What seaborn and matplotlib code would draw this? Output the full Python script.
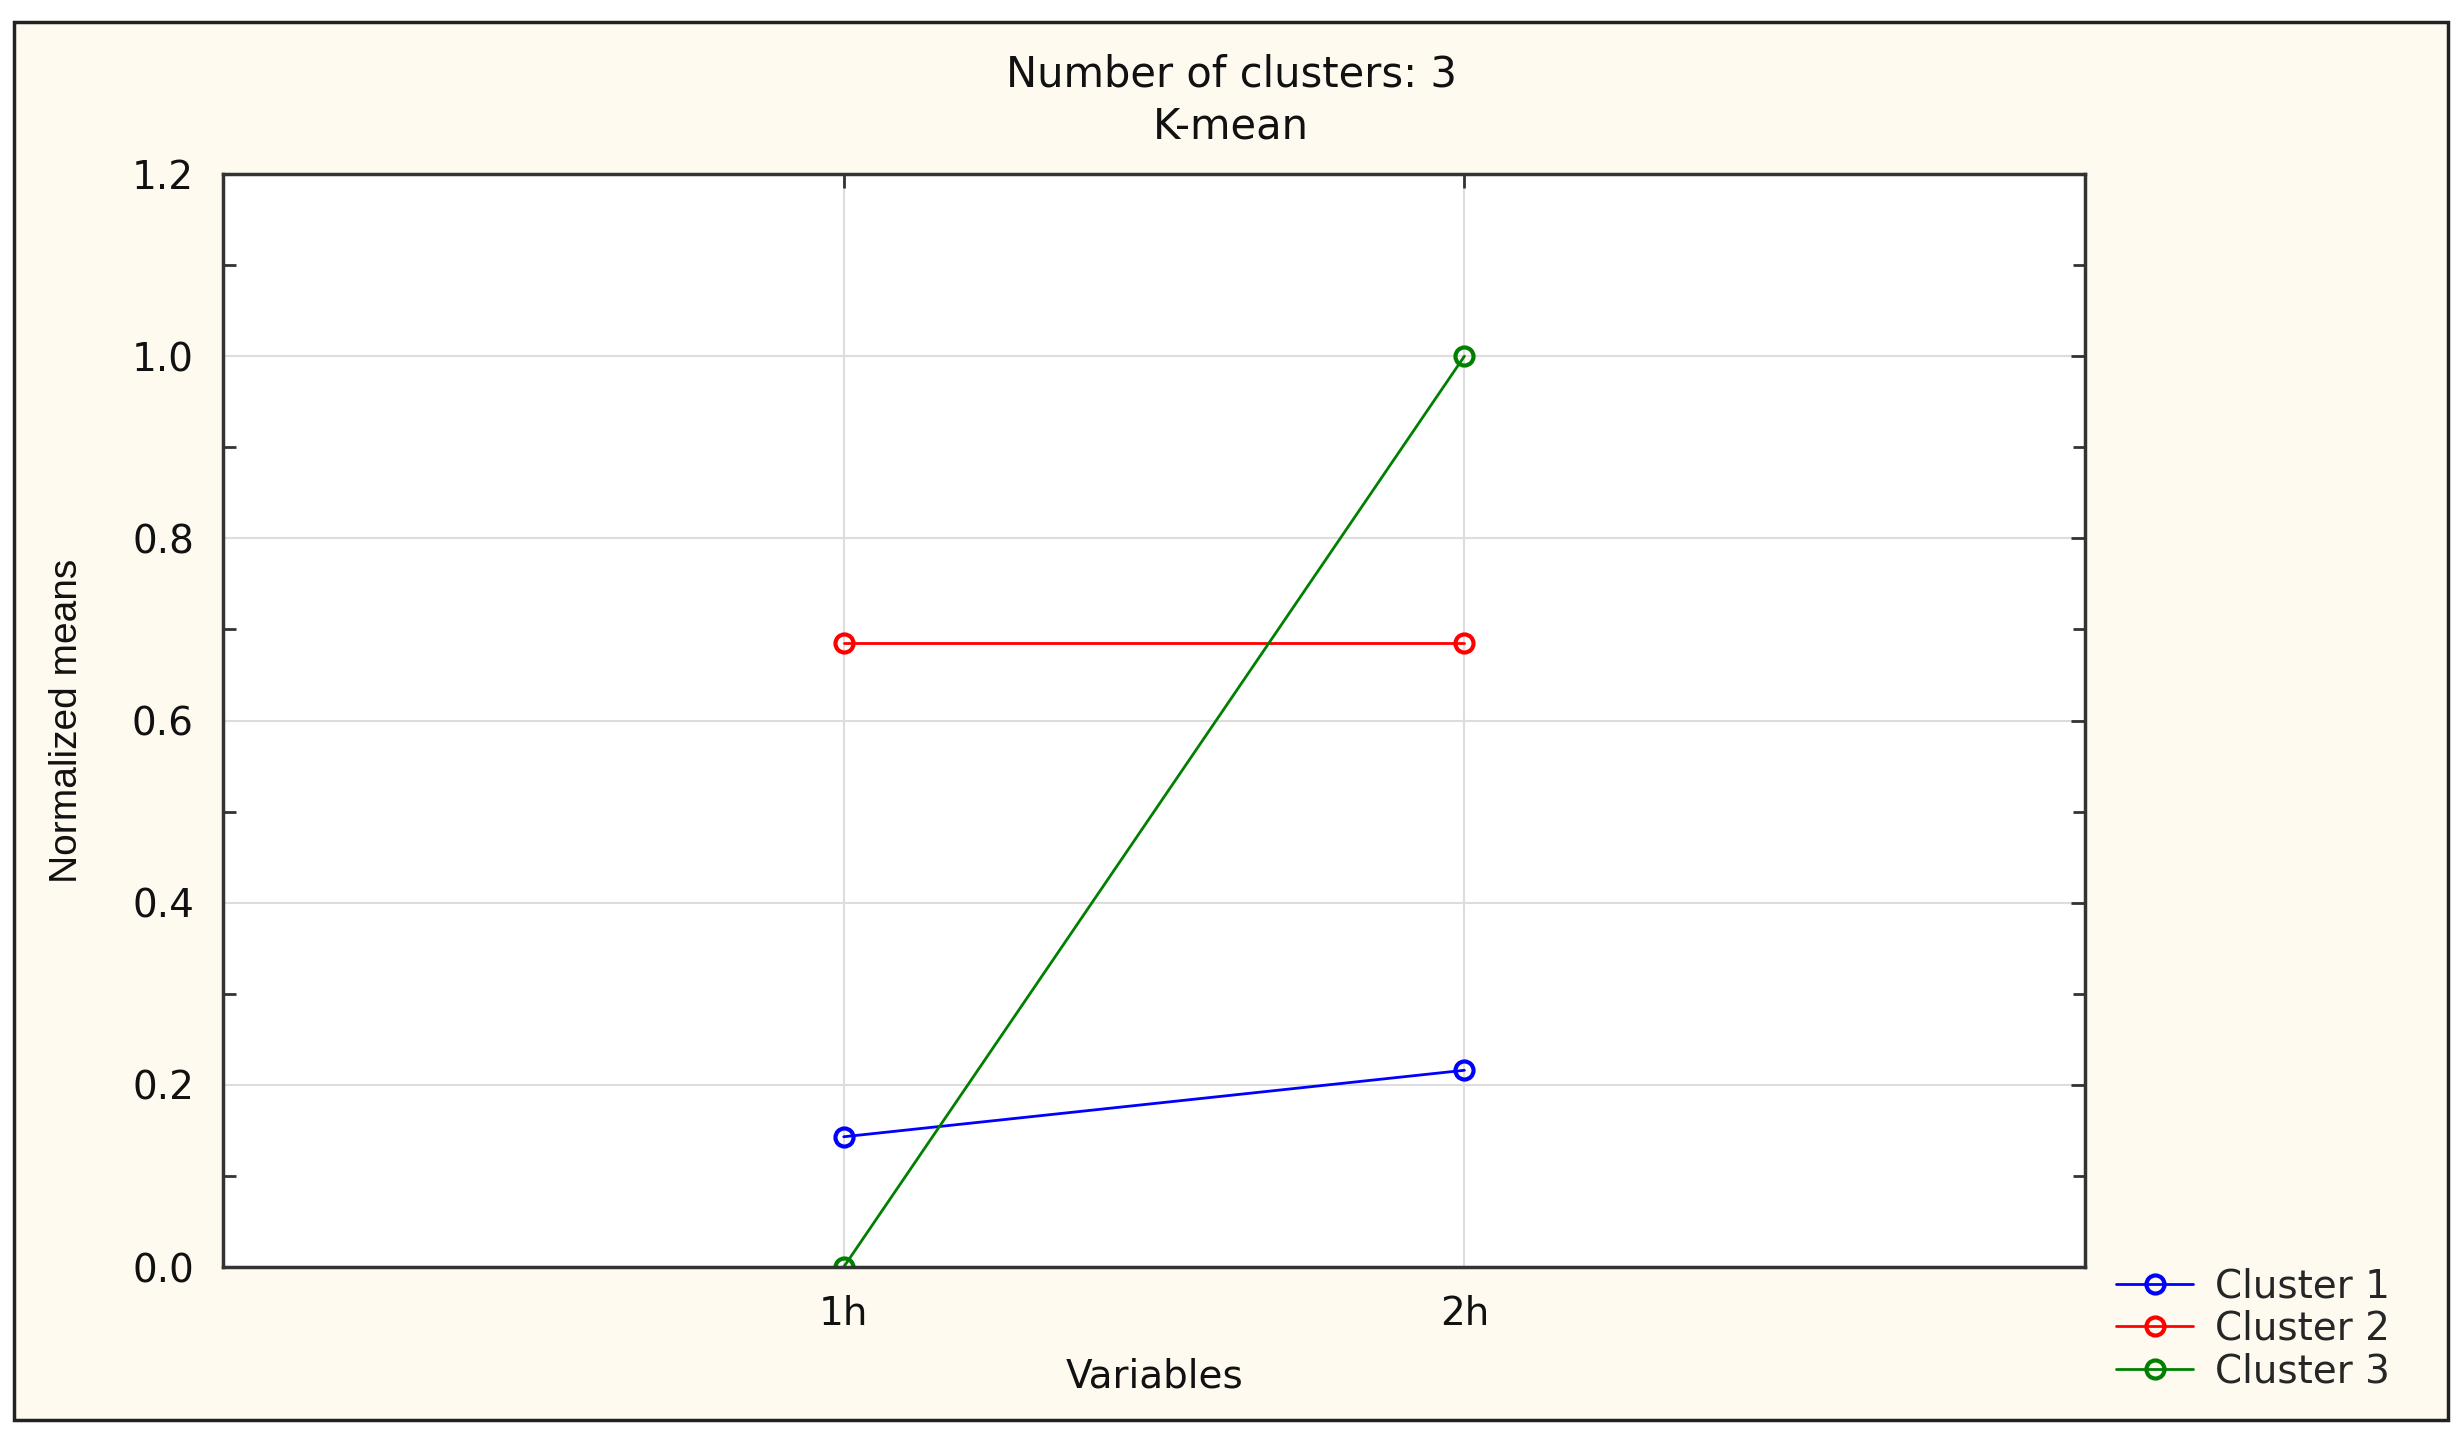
import numpy as np
import pandas as pd
import matplotlib
matplotlib.use('Agg')
import matplotlib.pyplot as plt
import matplotlib.patches as patches
from matplotlib.ticker import MultipleLocator
import seaborn as sns

# Data
variables = ['1h', '2h']
cluster_1 = [0.143, 0.216]
cluster_2 = [0.685, 0.685]
cluster_3 = [0.0, 1.0]
cluster_names = ['Cluster 1', 'Cluster 2', 'Cluster 3']
cluster_colors = ['#0000FF', '#FF0000', '#008000']

df = pd.DataFrame({
    'Variables': variables * 3,
    'Normalized means': cluster_1 + cluster_2 + cluster_3,
    'Cluster': [c for c in cluster_names for _ in variables],
})

sns.set_theme(style='white')
plt.rcParams['font.family'] = ['DejaVu Sans']

fig = plt.figure(figsize=(24.62, 14.37), dpi=100)
fig.patch.set_facecolor('white')

# cream panel with dark frame
frame = patches.Rectangle((0.0057, 0.0118), 0.9886, 0.9729, transform=fig.transFigure,
                          facecolor='#FEFAF0', edgecolor='#222222', linewidth=2.5, zorder=0)
fig.add_artist(frame)

ax = fig.add_axes([0.0906, 0.1183, 0.7563, 0.7606])
ax.set_facecolor('white')

sns.lineplot(data=df, x='Variables', y='Normalized means', hue='Cluster',
             palette=cluster_colors, marker='o', markersize=13, markerfacecolor='none',
             markeredgewidth=3, linewidth=2.0, sort=False, ax=ax, legend=True)
for line in ax.get_lines():
    line.set_markeredgecolor(line.get_color())

ax.set_xlim(-1, 2)
ax.set_ylim(0, 1.2)
ax.yaxis.set_major_locator(MultipleLocator(0.2))
ax.yaxis.set_minor_locator(MultipleLocator(0.1))
ax.set_yticklabels([f'{v:.1f}' for v in ax.get_yticks()])
ax.grid(True, which='major', color='#DDDDDD', linewidth=1.5)
ax.set_axisbelow(True)

for s in ax.spines.values():
    s.set_color('#333333')
    s.set_linewidth(2.5)

ax.tick_params(axis='both', which='major', direction='in', length=10, width=2,
               labelsize=28, colors='#333333', labelcolor='#111111', top=True, right=True)
ax.tick_params(axis='y', which='major', pad=21)
ax.tick_params(axis='x', which='major', pad=20)
ax.tick_params(axis='y', which='minor', direction='in', length=9, width=2,
               left=True, right=True, colors='#333333')

ax.set_xlabel('Variables', fontsize=28, color='#111111', labelpad=18)
ax.set_ylabel('Normalized means', fontsize=28, color='#111111', labelpad=34,
              family=['Liberation Sans', 'DejaVu Sans'])

fig.text(0.5, 0.948, 'Number of clusters: 3', ha='center', va='center', fontsize=30, color='#111111')
fig.text(0.5, 0.912, 'K-mean', ha='center', va='center', fontsize=30, color='#111111')

handles, labels = ax.get_legend_handles_labels()
ax.get_legend().remove()
fig.legend(handles, labels, loc='upper left', bbox_to_anchor=(0.853, 0.129),
           frameon=False, fontsize=28, handlelength=2.0, handletextpad=0.55,
           labelspacing=0.12, borderaxespad=0)

fig.savefig('out.png', dpi=100, facecolor=fig.get_facecolor())
